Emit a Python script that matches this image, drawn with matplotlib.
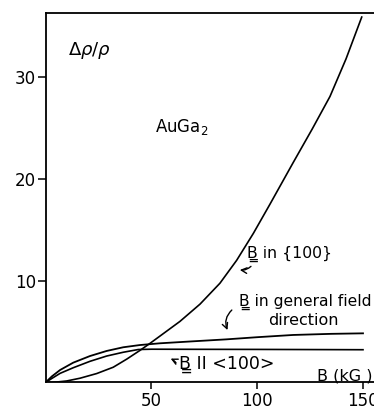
import numpy as np
import matplotlib.pyplot as plt

# values (B in kG, delta rho / rho)
b_100_plane = [0, 5, 10, 16.3, 24.2, 32, 38.4, 44.6, 49.4, 54, 63.5, 73, 82.4, 90.3,
               98.2, 106, 117, 126, 134.4, 142, 149.4]
r_100_plane = [0, 0.04, 0.15, 0.42, 0.88, 1.5, 2.3, 3.15, 3.85, 4.55, 6.0, 7.7, 9.75, 12.0,
               14.65, 17.5, 21.6, 24.9, 28.1, 31.8, 35.9]

b_general = [0, 3, 6.9, 13.1, 21, 28.9, 36.7, 44.6, 54, 70, 85.6, 100, 117, 135, 150]
r_general = [0, 0.6, 1.23, 1.95, 2.6, 3.1, 3.46, 3.68, 3.85, 4.05, 4.24, 4.45, 4.67, 4.78, 4.83]

b_axis = [0, 3, 6.9, 13.1, 21, 28.9, 36.7, 43.8, 50, 70, 100, 150]
r_axis = [0, 0.4, 0.9, 1.45, 2.08, 2.6, 2.97, 3.24, 3.27, 3.26, 3.25, 3.22]

xticks = [50, 100, 150]
yticks = [10, 20, 30]

plt.rcParams['font.family'] = ['DejaVu Sans']

fig = plt.figure(figsize=(3.74, 4.09), dpi=100)
ax = fig.add_axes([0.1217, 0.0648, 0.8783, 0.9034])

ax.plot(b_100_plane, r_100_plane, 'k-', lw=1.2)
ax.plot(b_general, r_general, 'k-', lw=1.3)
ax.plot(b_axis, r_axis, 'k-', lw=1.2)

ax.set_xlim(0, 155.2)
ax.set_ylim(0, 36.3)
ax.set_xticks(xticks)
ax.set_yticks(yticks)
ax.tick_params(axis='y', direction='out', length=6, width=1.1, labelsize=12, pad=1)
ax.tick_params(axis='x', direction='out', length=5, width=1.1, labelsize=12, pad=2)
ax.spines['right'].set_visible(False)
for s in ['left', 'bottom', 'top']:
    ax.spines[s].set_linewidth(1.3)

ax.text(10.6, 32.6, r'$\Delta\rho/\rho$', fontsize=13, va='center')
ax.text(51.7, 25.1, 'AuGa$_2$', fontsize=12, va='center')
ax.text(95.2, 12.6, 'B\u0333 in {100}', fontsize=11.3, va='center')
ax.annotate('', xy=(90.5, 11.1), xytext=(98, 11.6),
            arrowprops=dict(arrowstyle='->', lw=1, connectionstyle='arc3,rad=-0.3'))
ax.text(91.4, 7.9, 'B\u0333 in general field', fontsize=11.2, va='center')
ax.text(122, 6.1, 'direction', fontsize=11.5, va='center', ha='center')
ax.annotate('', xy=(86.5, 4.9), xytext=(89, 7.3),
            arrowprops=dict(arrowstyle='->', lw=1, connectionstyle='arc3,rad=0.4'))
ax.text(63.2, 1.85, 'B\u0333 II <100>', fontsize=12.5, va='center')
ax.annotate('', xy=(57.9, 2.45), xytext=(62.4, 1.7),
            arrowprops=dict(arrowstyle='->', lw=1, connectionstyle='arc3,rad=0.2'))
ax.text(128.3, 0.64, 'B (kG )', fontsize=11.5, va='center')

fig.savefig('out.png', dpi=100)
